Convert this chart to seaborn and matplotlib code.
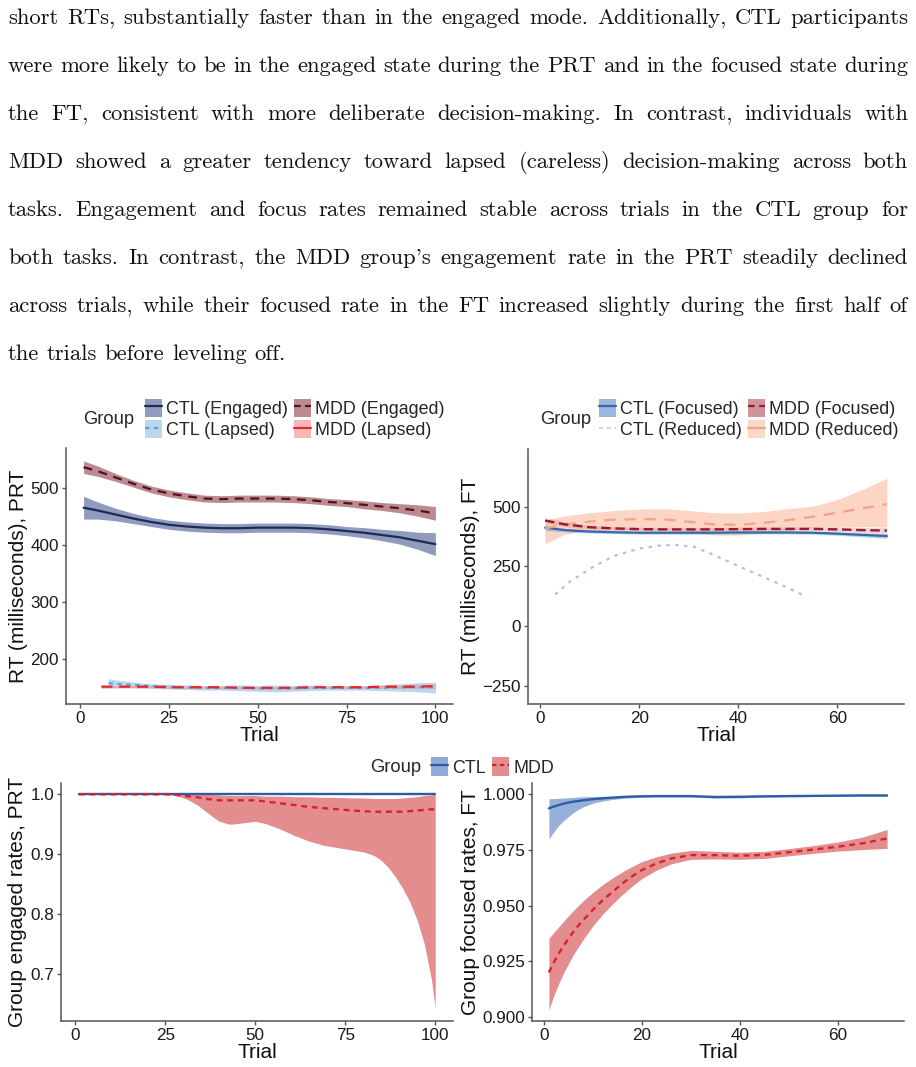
import matplotlib
matplotlib.use("Agg")
import matplotlib.pyplot as plt
import seaborn as sns
from matplotlib.patches import Patch
from matplotlib.lines import Line2D
from matplotlib.ticker import FormatStrFormatter

sns.set_style("ticks")
plt.rcParams['font.family'] = ['Liberation Sans', 'DejaVu Sans']

W, H = 916, 1067

# ---- paragraph above the figure ----
paragraph = [
    "short RTs, substantially faster than in the engaged mode. Additionally, CTL participants",
    "were more likely to be in the engaged state during the PRT and in the focused state during",
    "the FT, consistent with more deliberate decision-making. In contrast, individuals with",
    "MDD showed a greater tendency toward lapsed (careless) decision-making across both",
    "tasks. Engagement and focus rates remained stable across trials in the CTL group for",
    "both tasks. In contrast, the MDD group's engagement rate in the PRT steadily declined",
    "across trials, while their focused rate in the FT increased slightly during the first half of",
    "the trials before leveling off.",
]

# ---- PRT reaction times (top left) ----
trial_prt = [1, 5, 10, 15, 20, 25, 30, 35, 40, 45, 50, 55, 60, 65, 70, 75, 80, 85, 90, 95, 100]
ctl_eng = [466, 461, 454, 447, 441, 436, 433, 431, 430, 430, 431, 431, 431, 430, 428, 425, 422, 418, 414, 408, 402]
ctl_eng_lo = [446, 446, 443, 438, 433, 428, 425, 423, 422, 422, 423, 423, 423, 422, 420, 417, 413, 408, 402, 393, 382]
ctl_eng_hi = [486, 476, 465, 456, 449, 444, 441, 439, 438, 438, 439, 439, 439, 438, 436, 433, 431, 428, 426, 423, 422]
mdd_eng = [537, 530, 519, 508, 498, 491, 486, 482, 481, 482, 482, 482, 481, 479, 476, 474, 471, 468, 465, 461, 456]
mdd_eng_lo = [526, 521, 512, 502, 492, 485, 480, 476, 475, 476, 476, 476, 475, 473, 470, 468, 464, 461, 457, 451, 444]
mdd_eng_hi = [548, 539, 526, 514, 504, 497, 492, 488, 487, 488, 488, 488, 487, 485, 482, 480, 478, 475, 473, 471, 468]

trial_ctl_lap = [8, 10, 15, 20, 25, 30, 35, 40, 45, 50, 55, 60, 65, 70, 75, 80, 85, 90, 95, 100]
ctl_lap = [158, 157, 155, 153, 152, 151, 150, 150, 150, 149, 149, 149, 150, 150, 150, 150, 150, 151, 151, 151]
ctl_lap_lo = [150, 150, 150, 149, 148, 147, 146, 146, 145, 144, 143, 144, 145, 146, 146, 146, 145, 144, 143, 141]
ctl_lap_hi = [166, 164, 160, 157, 156, 155, 154, 154, 155, 154, 155, 154, 155, 154, 154, 154, 155, 157, 159, 160]
trial_mdd_lap = [6, 10, 15, 20, 25, 30, 35, 40, 45, 50, 55, 60, 65, 70, 75, 80, 85, 90, 95, 100]
mdd_lap = [152, 152, 152, 152, 151, 151, 151, 151, 150, 150, 150, 150, 151, 151, 151, 151, 152, 152, 152, 153]
mdd_lap_lo = [149, 150, 150, 150, 149, 149, 149, 149, 148, 148, 148, 148, 149, 149, 149, 149, 149, 149, 149, 149]
mdd_lap_hi = [155, 154, 154, 154, 153, 153, 153, 153, 152, 152, 152, 152, 153, 153, 153, 153, 155, 155, 156, 157]

# ---- FT reaction times (top right) ----
trial_ft = [1, 5, 10, 15, 20, 25, 30, 35, 40, 45, 50, 55, 60, 65, 70]
ctl_foc = [412, 402, 396, 393, 391, 391, 391, 391, 392, 392, 392, 391, 387, 382, 377]
ctl_foc_lo = [400, 395, 390, 387, 385, 385, 385, 385, 386, 386, 386, 385, 380, 374, 367]
ctl_foc_hi = [424, 409, 402, 399, 397, 397, 397, 397, 398, 398, 398, 397, 394, 390, 387]
mdd_foc = [442, 426, 414, 409, 406, 405, 405, 405, 406, 407, 407, 407, 405, 402, 400]
mdd_foc_lo = [428, 416, 406, 401, 398, 397, 397, 397, 398, 399, 399, 398, 395, 391, 386]
mdd_foc_hi = [456, 436, 422, 417, 414, 413, 413, 413, 414, 415, 415, 416, 415, 413, 414]
mdd_red = [409, 425, 438, 446, 448, 447, 437, 426, 424, 432, 444, 458, 475, 493, 511]
mdd_red_lo = [344, 385, 398, 402, 402, 402, 392, 381, 381, 390, 400, 412, 416, 416, 416]
mdd_red_hi = [444, 462, 475, 484, 490, 492, 484, 475, 474, 480, 492, 502, 530, 572, 619]
trial_ctl_red = [3, 6, 11, 15, 20, 24, 27, 31, 35, 41, 48, 53]
ctl_red = [132, 186, 252, 294, 325, 337, 340, 333, 298, 242, 179, 130]

# ---- group rates (bottom) ----
trial_rate_prt = [1, 10, 20, 25, 28, 31, 34, 37, 40, 43, 46, 50, 53, 57, 61, 65, 69, 73, 77, 80, 83, 85,
                  87, 89, 91, 93, 95, 97, 99, 100]
ctl_rate_prt = [1.0] * 30
mdd_rate_prt = [1.0, 1.0, 1.0, 1.0, 0.999, 0.997, 0.995, 0.992, 0.990, 0.990, 0.990, 0.990, 0.988, 0.985,
                0.982, 0.979, 0.977, 0.975, 0.973, 0.972, 0.971, 0.971, 0.971, 0.971, 0.971, 0.972, 0.973,
                0.974, 0.975, 0.975]
mdd_rate_prt_lo = [1.0, 1.0, 1.0, 1.0, 0.998, 0.992, 0.982, 0.968, 0.955, 0.950, 0.952, 0.955, 0.951, 0.942,
                   0.931, 0.922, 0.915, 0.911, 0.907, 0.904, 0.898, 0.890, 0.878, 0.862, 0.843, 0.820, 0.790,
                   0.750, 0.690, 0.643]
mdd_rate_prt_hi = [1.0, 1.0, 1.0, 1.0, 1.0, 1.0, 1.0, 1.0, 0.999, 0.998, 0.998, 0.998, 0.997, 0.997,
                   0.996, 0.996, 0.995, 0.995, 0.994, 0.994, 0.993, 0.993, 0.993, 0.993, 0.994, 0.995, 0.996,
                   0.998, 0.999, 1.0]

trial_rate_ft = [1, 2, 3, 4, 5, 6, 7, 8, 10, 12, 14, 16, 18, 20, 23, 26, 30, 35, 40, 45, 50, 55, 60, 65, 70]
ctl_rate_ft = [0.9937, 0.9945, 0.9952, 0.9958, 0.9963, 0.9967, 0.9970, 0.9973, 0.9978, 0.9982, 0.9985,
               0.9988, 0.9990, 0.9991, 0.9992, 0.9992, 0.9992, 0.9988, 0.9989, 0.9991, 0.9992, 0.9993,
               0.9994, 0.9995, 0.9995]
ctl_rate_ft_lo = [0.9800, 0.9832, 0.9860, 0.9882, 0.9900, 0.9918, 0.9932, 0.9944, 0.9960, 0.9970, 0.9977,
                  0.9982, 0.9985, 0.9987, 0.9988, 0.9988, 0.9988, 0.9983, 0.9984, 0.9987, 0.9989, 0.9990,
                  0.9991, 0.9992, 0.9991]
ctl_rate_ft_hi = [0.9980, 0.9981, 0.9982, 0.9983, 0.9985, 0.9986, 0.9988, 0.9989, 0.9990, 0.9991, 0.9992,
                  0.9993, 0.9994, 0.9995, 0.9996, 0.9996, 0.9996, 0.9993, 0.9994, 0.9995, 0.9996, 0.9996,
                  0.9997, 0.9998, 0.9999]
mdd_rate_ft = [0.9200, 0.9245, 0.9285, 0.9320, 0.9352, 0.9383, 0.9410, 0.9435, 0.9482, 0.9525, 0.9562,
               0.9600, 0.9632, 0.9660, 0.9690, 0.9712, 0.9727, 0.9727, 0.9724, 0.9728, 0.9740, 0.9752,
               0.9765, 0.9780, 0.9802]
mdd_rate_ft_lo = [0.9033, 0.9095, 0.9150, 0.9198, 0.9240, 0.9280, 0.9315, 0.9348, 0.9410, 0.9462, 0.9508,
                  0.9550, 0.9588, 0.9622, 0.9660, 0.9688, 0.9708, 0.9710, 0.9708, 0.9712, 0.9724, 0.9735,
                  0.9745, 0.9752, 0.9757]
mdd_rate_ft_hi = [0.9353, 0.9380, 0.9405, 0.9430, 0.9455, 0.9478, 0.9500, 0.9522, 0.9560, 0.9595, 0.9625,
                  0.9652, 0.9676, 0.9698, 0.9720, 0.9736, 0.9748, 0.9744, 0.9740, 0.9744, 0.9756, 0.9770,
                  0.9786, 0.9808, 0.9842]

fig = plt.figure(figsize=(W / 100, H / 100), dpi=100)


def px_axes(x0, y0, x1, y1):
    return fig.add_axes([x0 / W, 1 - y1 / H, (x1 - x0) / W, (y1 - y0) / H])


def style(ax, xlabel, ylabel):
    sns.despine(ax=ax)
    for s in ['left', 'bottom']:
        ax.spines[s].set_color('#555555')
        ax.spines[s].set_linewidth(1.1)
    ax.tick_params(colors='#555555', labelcolor='#1a1a1a', labelsize=12.3, length=3, width=1, pad=2)
    ax.set_xlabel(xlabel, fontsize=15, labelpad=0, color='#111111')
    ax.set_ylabel(ylabel, fontsize=15, labelpad=2, color='#111111')
    ax.set_facecolor('white')


def band(ax, x, lo, hi, color, alpha):
    ax.fill_between(x, lo, hi, color=color, alpha=alpha, lw=0)


def legend_block(ax_handles, labels, title_x, title_y, key_x, size=12.9, ncol=2):
    fig.text(title_x / W, 1 - title_y / H, "Group", fontsize=13.2, va='center', ha='left')
    fig.legend(ax_handles, labels, loc='center left', bbox_to_anchor=(key_x / W, 1 - title_y / H),
               ncol=ncol, frameon=False, fontsize=size, borderpad=0, borderaxespad=0,
               handlelength=0.95, handleheight=1.2, handletextpad=0.25, columnspacing=0.3,
               labelspacing=0.1)


# ---- top left: PRT RT ----
ax1 = px_axes(66, 448, 453, 704)
band(ax1, trial_prt, ctl_eng_lo, ctl_eng_hi, '#6c7aa6', 0.75)
band(ax1, trial_prt, mdd_eng_lo, mdd_eng_hi, '#9e5a63', 0.7)
band(ax1, trial_ctl_lap, ctl_lap_lo, ctl_lap_hi, '#9fcbe8', 0.75)
band(ax1, trial_mdd_lap, mdd_lap_lo, mdd_lap_hi, '#f29a9c', 0.7)
sns.lineplot(x=trial_prt, y=ctl_eng, ax=ax1, color='#1c2a5c', lw=1.6)
sns.lineplot(x=trial_prt, y=mdd_eng, ax=ax1, color='#5a0e1b', lw=1.6, linestyle=(0, (4, 3)))
sns.lineplot(x=trial_ctl_lap, y=ctl_lap, ax=ax1, color='#5fa4d3', lw=1.6, linestyle=(0, (2, 2)))
sns.lineplot(x=trial_mdd_lap, y=mdd_lap, ax=ax1, color='#e3262d', lw=1.6, linestyle=(0, (5, 3)))
ax1.set_xlim(-3.95, 104.95)
ax1.set_ylim(121.6, 570.7)
ax1.set_xticks([0, 25, 50, 75, 100])
ax1.set_yticks([200, 300, 400, 500])
style(ax1, "Trial", "RT (milliseconds), PRT")

h1 = [(Patch(color='#6c7aa6', alpha=0.75, lw=0), Line2D([], [], color='#1c2a5c', lw=1.6)),
      (Patch(color='#9fcbe8', alpha=0.75, lw=0), Line2D([], [], color='#5fa4d3', lw=1.6, linestyle=(0, (2, 2)))),
      (Patch(color='#9e5a63', alpha=0.7, lw=0), Line2D([], [], color='#5a0e1b', lw=1.6, linestyle=(0, (3, 2)))),
      (Patch(color='#f29a9c', alpha=0.7, lw=0), Line2D([], [], color='#e3262d', lw=1.6))]
legend_block(h1, ["CTL (Engaged)", "CTL (Lapsed)", "MDD (Engaged)", "MDD (Lapsed)"], 83, 419, 145)

# ---- top right: FT RT ----
ax2 = px_axes(528, 449, 904, 704)
band(ax2, trial_ft, mdd_red_lo, mdd_red_hi, '#fbc4ad', 0.7)
band(ax2, trial_ft, mdd_foc_lo, mdd_foc_hi, '#c98a93', 0.35)
band(ax2, trial_ft, ctl_foc_lo, ctl_foc_hi, '#8fb0da', 0.6)
sns.lineplot(x=trial_ctl_red, y=ctl_red, ax=ax2, color='#a8c3e3', lw=1.6, linestyle=(0, (1.5, 2.5)))
sns.lineplot(x=trial_ft, y=ctl_foc, ax=ax2, color='#3768ad', lw=1.6)
sns.lineplot(x=trial_ft, y=mdd_red, ax=ax2, color='#f4a283', lw=1.6, linestyle=(0, (5, 4)))
sns.lineplot(x=trial_ft, y=mdd_foc, ax=ax2, color='#9c1a2b', lw=1.7, linestyle=(0, (4, 2)))
ax2.set_xlim(-2.45, 73.45)
ax2.set_ylim(-327, 742)
ax2.set_xticks([0, 20, 40, 60])
ax2.set_yticks([-250, 0, 250, 500])
style(ax2, "Trial", "RT (milliseconds), FT")

h2 = [(Patch(color='#8fb0da', alpha=0.9, lw=0), Line2D([], [], color='#3768ad', lw=1.6)),
      (Patch(color='white', alpha=0, lw=0), Line2D([], [], color='#c5d6ec', lw=1.4, linestyle=(0, (2, 2)))),
      (Patch(color='#c98a93', alpha=0.9, lw=0), Line2D([], [], color='#9c1a2b', lw=1.6, linestyle=(0, (3, 2)))),
      (Patch(color='#fbd3c2', alpha=0.9, lw=0), Line2D([], [], color='#f4a283', lw=1.6))]
legend_block(h2, ["CTL (Focused)", "CTL (Reduced)", "MDD (Focused)", "MDD (Reduced)"], 540, 419, 599)

# ---- bottom left: engaged rates ----
ax3 = px_axes(61, 783, 453, 1021)
band(ax3, trial_rate_prt, mdd_rate_prt_lo, mdd_rate_prt_hi, '#e0797c', 0.85)
sns.lineplot(x=trial_rate_prt, y=ctl_rate_prt, ax=ax3, color='#2f5ca8', lw=1.7)
sns.lineplot(x=trial_rate_prt, y=mdd_rate_prt, ax=ax3, color='#d8222b', lw=1.7, linestyle=(0, (2.5, 2)))
ax3.set_xlim(-3.95, 104.95)
ax3.set_ylim(0.622, 1.0189)
ax3.set_xticks([0, 25, 50, 75, 100])
ax3.set_yticks([0.7, 0.8, 0.9, 1.0])
ax3.yaxis.set_major_formatter(FormatStrFormatter('%.1f'))
style(ax3, "Trial", "Group engaged rates, PRT")

# ---- bottom right: focused rates ----
ax4 = px_axes(532, 783, 904, 1021)
band(ax4, trial_rate_ft, ctl_rate_ft_lo, ctl_rate_ft_hi, '#7f9bd0', 0.8)
band(ax4, trial_rate_ft, mdd_rate_ft_lo, mdd_rate_ft_hi, '#e0797c', 0.85)
sns.lineplot(x=trial_rate_ft, y=ctl_rate_ft, ax=ax4, color='#2f5ca8', lw=1.7)
sns.lineplot(x=trial_rate_ft, y=mdd_rate_ft, ax=ax4, color='#d8222b', lw=1.7, linestyle=(0, (2.5, 2)))
ax4.set_xlim(-2.45, 73.45)
ax4.set_ylim(0.8982, 1.00508)
ax4.set_xticks([0, 20, 40, 60])
ax4.set_yticks([0.900, 0.925, 0.950, 0.975, 1.000])
ax4.yaxis.set_major_formatter(FormatStrFormatter('%.3f'))
style(ax4, "Trial", "Group focused rates, FT")

h3 = [(Patch(color='#7f9bd0', alpha=0.85, lw=0), Line2D([], [], color='#2f5ca8', lw=1.6)),
      (Patch(color='#e0797c', alpha=0.85, lw=0), Line2D([], [], color='#d8222b', lw=1.6, linestyle=(0, (2, 1.5))))]
legend_block(h3, ["CTL", "MDD"], 370, 767, 431, ncol=2)

# ---- justified paragraph ----
fig.canvas.draw()
r = fig.canvas.get_renderer()
fs = 16.3
left, right = 8, 908
for i, line in enumerate(paragraph):
    words = line.split()
    y = 1 - (24 + 48 * i) / H
    objs = [fig.text(0, y, w, fontsize=fs, family=['cmr10', 'DejaVu Serif'], va='baseline', color='#111111')
            for w in words]
    widths = [o.get_window_extent(r).width for o in objs]
    if i == len(paragraph) - 1:
        gap = 0.333 * fs * 100 / 72
    else:
        gap = (right - left - sum(widths)) / (len(words) - 1)
    x = left
    for o, wd in zip(objs, widths):
        o.set_x(x / W)
        x += wd + gap

fig.savefig("out.png", dpi=100)
